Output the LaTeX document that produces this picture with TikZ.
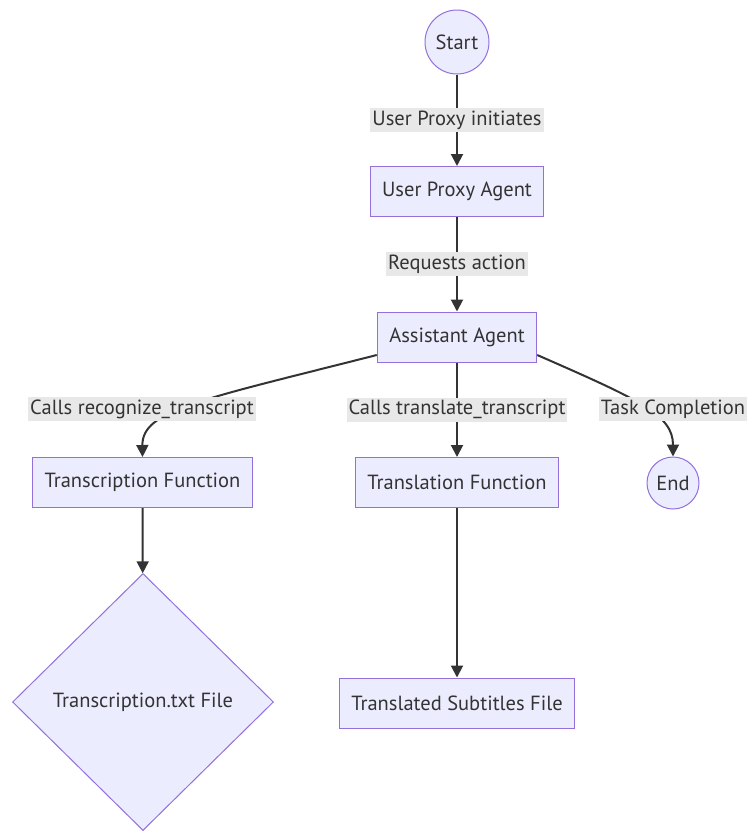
\documentclass[tikz,border=0pt]{standalone}
\usepackage{fontspec}
\setmainfont{PT Sans}
\usepackage{xcolor}
\usetikzlibrary{arrows.meta,shapes.geometric}
\definecolor{nodefill}{HTML}{ECECFF}
\definecolor{nodeline}{HTML}{9370DB}
\definecolor{edgeline}{HTML}{333333}
\definecolor{lblfill}{HTML}{E8E8E8}

\begin{document}
\begin{tikzpicture}[x=1pt, y=-1pt, font=\fontsize{20.5}{24}\selectfont, text=edgeline,
	box/.style={draw=nodeline, fill=nodefill, line width=1pt, minimum height=50pt, inner xsep=12pt},
	circ/.style={draw=nodeline, fill=nodefill, line width=1pt, circle, inner sep=0pt},
	dia/.style={draw=nodeline, fill=nodefill, line width=1pt, diamond, inner sep=0pt, minimum width=261pt, minimum height=257pt},
	flow/.style={draw=edgeline, line width=2pt, -{Triangle[length=12pt,width=12pt]}},
	lbl/.style={fill=lblfill, inner xsep=2pt, inner ysep=2.5pt}]
	\useasboundingbox (0,0) rectangle (750,831);
	\node[circ, minimum size=64pt] (start) at (457,42) {Start};
	\node[box] (upa) at (457,191.5) {User Proxy Agent};
	\node[box] (asst) at (457,337) {Assistant Agent};
	\node[box] (trans) at (142.5,482.5) {Transcription Function};
	\node[box] (transl) at (457,482.5) {Translation Function};
	\node[circ, minimum size=52pt] (end) at (673,483) {End};
	\node[dia] (txt) at (143,702) {Transcription.txt File};
	\node[box] (subs) at (457,703) {Translated Subtitles File};
	% edges
	\draw[flow] (start) -- node[lbl] {User Proxy initiates} (upa);
	\draw[flow] (upa) -- node[lbl] {Requests action} (asst);
	\draw[flow] (asst) -- node[lbl] {Calls translate\_transcript} (transl);
	\draw[flow] ([yshift=-18pt]asst.west) .. controls (200,400) and (142,410) .. (trans.north);
	\node[lbl] (lrec) at (142,409) {Calls recognize\_transcript};
	\draw[flow] ([yshift=-18pt]asst.east) .. controls (640,400) and (673,415) .. (end.north);
	\node[lbl] (ldone) at (673,409) {Task Completion};
	\draw[flow] (trans) -- (txt);
	\draw[flow] (transl) -- (subs);
\end{tikzpicture}
\end{document}
